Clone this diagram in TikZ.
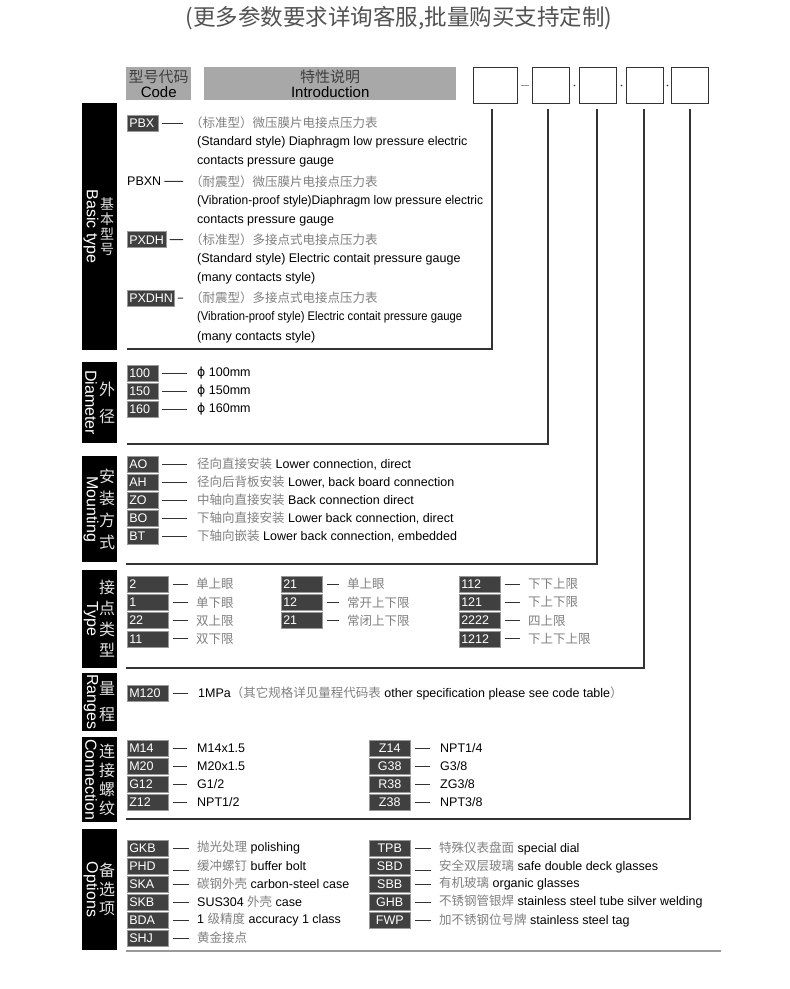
\documentclass[tikz,border=0pt]{standalone}
\usepackage{fontspec}
\setmainfont{Liberation Sans}
\newfontfamily\cjk{Noto Sans CJK SC}
\newfontfamily\symf{DejaVu Sans}
\usetikzlibrary{calc}
\definecolor{CodeGray}{rgb}{0.25,0.25,0.25}
\definecolor{HeadGray}{rgb}{0.66,0.66,0.66}
\definecolor{ZhGray}{rgb}{0.50,0.50,0.50}
\definecolor{TitleGray}{rgb}{0.32,0.32,0.32}
\definecolor{FrameGray}{rgb}{0.20,0.20,0.20}
\definecolor{Black50}{rgb}{0.600,0.600,0.600}
\newcommand{\zhg}[1]{{\cjk\color{ZhGray}#1}}

\begin{document}
\begin{tikzpicture}[x=1pt, y=-1pt,
  codebox/.style={fill=CodeGray, draw=Black50, line width=0.5pt, text=white,
    font=\fontsize{12.5}{13}\selectfont, minimum height=16pt,
    inner xsep=2pt, inner ysep=0pt, anchor=west, align=left, text width=#1},
  codebox/.default=27pt,
  desc/.style={anchor=west, inner sep=0pt, font=\fontsize{12.5}{14}\selectfont},
  dashline/.style={draw=FrameGray, line width=1pt},
  frameline/.style={draw=FrameGray, line width=1.3pt},
  baren/.style={white, rotate=-90, inner sep=0pt, font=\fontsize{16}{16}\selectfont},
  barzh/.style 2 args={white!88!black, inner sep=0pt, align=center,
    font={\fontsize{#1}{#2}\selectfont\cjk}},
  headbox/.style={fill=HeadGray, anchor=north west, inner sep=0pt, align=center,
    minimum height=33pt, font=\fontsize{15}{15.5}\selectfont},
  slot/.style={draw=FrameGray, line width=1pt, anchor=north west, inner sep=0pt,
    minimum height=36pt}
]
% page
\fill[white] (0,0) rectangle (790,989);
\useasboundingbox (0,0) rectangle (790,989);

% ============================================================
% Title and header row
% ============================================================
\node[TitleGray, font={\fontsize{22.5}{24}\selectfont\cjk}] (title) at (399,18) {(更多参数要求详询客服,批量购买支持定制)};

\node[headbox, minimum width=65pt] (hcode) at (126,67) {{\cjk\color{black!75}型号代码}\\Code};
\node[headbox, minimum width=252pt] (hintro) at (204,67) {{\cjk\color{black!75}特性说明}\\Introduction};

% code slots
\foreach \x/\w [count=\i] in {473/44,532/37,579/37,626/37,671/37}{
  \node[slot, minimum width=\w pt] (s\i) at (\x,67) {};
}
\draw[Black50, line width=0.8pt] ([xshift=3pt]s1.east) -- ([xshift=-3pt]s2.west);
\foreach \i/\j in {2/3,3/4,4/5}
  \fill[FrameGray] ($(s\i.east)!0.5!(s\j.west)$) circle (0.9pt);

% lines from the slots down to each section
\foreach \i/\x/\y/\ex in {1/492/349/127,2/548/444/127,3/597/564/126,4/644/668/126,5/690/819/126}{
  \coordinate (t\i) at ([yshift=-5pt]s\i.south);
  \coordinate (k\i) at (\x,\y);
  \coordinate (e\i) at (\ex,\y);
  \draw[frameline] (t\i -| k\i) -- (k\i) -- (e\i);
}

% ============================================================
% Black side bars
% ============================================================
\foreach \top/\bot/\en/\zh/\sz/\sp [count=\i] in {
  103/350/Basic type/{基\\本\\型\\号}/14/15,
  362/443/Diameter/{外\\径}/16/27,
  456/562/Mounting/{安\\装\\方\\式}/16/22,
  570/668/Type/{接\\点\\类\\型}/16/21,
  673/731/Ranges/{量\\程}/16/26,
  737/822/Connection/{连\\接\\螺\\纹}/16/19,
  829/950/Options/{备\\选\\项}/16/19}{
  \fill[black] (82,\top) rectangle (117,\bot);
  \node[baren] (en\i) at (91,{(\top+\bot)/2}) {\en};
  \node[barzh={\sz}{\sp}] (zh\i) at (107,{(\top+\bot)/2}) {\zh};
}

% ============================================================
% Basic type
% ============================================================
\foreach \x/\txt [count=\i] in {
  190/{\zhg{（标准型）微压膜片电接点压力表}},
  197/{(Standard style) Diaphragm low pressure electric},
  197/{contacts pressure gauge},
  190/{\zhg{（耐震型）微压膜片电接点压力表}},
  197/{\scalebox{0.96}[1]{(Vibration-proof style)Diaphragm low pressure electric}},
  197/{contacts pressure gauge},
  190/{\zhg{（标准型）多接点式电接点压力表}},
  197/{(Standard style) Electric contait pressure gauge},
  197/{(many contacts style)},
  190/{\zhg{（耐震型）多接点式电接点压力表}},
  197/{\scalebox{0.9}[1]{(Vibration-proof style) Electric contait pressure gauge}},
  197/{(many contacts style)}}{
  \node[desc] (bt\i) at (\x,{123+19.45*(\i-1)}) {\txt};
}
\node[codebox] (bc1) at (127,123) {PBX};
\node[desc] (bc2) at (127,181.35) {PBXN};
\node[codebox=35pt] (bc3) at (127,239.7) {PXDH};
\node[codebox=43pt] (bc4) at (127,298.05) {PXDHN};
\foreach \i/\j in {1/1,2/4,3/7,4/10}
  \draw[dashline] ([xshift=3pt]bc\i.east) -- ([xshift=-7pt]bt\j.west);

% ============================================================
% Diameter
% ============================================================
\foreach \code/\txt [count=\i] in {100/{{\symf ϕ} 100mm},150/{{\symf ϕ} 150mm},160/{{\symf ϕ} 160mm}}{
  \node[codebox] (dc\i) at (127,{373+18*(\i-1)}) {\code};
  \node[desc] (dt\i) at (197,{373+18*(\i-1)}) {\txt};
  \draw[dashline] ([xshift=3pt]dc\i.east) -- ([xshift=-10pt]dt\i.west);
}

% ============================================================
% Mounting
% ============================================================
\foreach \code/\txt [count=\i] in {
  AO/{\zhg{径向直接安装} Lower connection, direct},
  AH/{\zhg{径向后背板安装} Lower, back board connection},
  ZO/{\zhg{中轴向直接安装} Back connection direct},
  BO/{\zhg{下轴向直接安装} Lower back connection, direct},
  BT/{\zhg{下轴向嵌装} Lower back connection, embedded}}{
  \node[codebox] (mc\i) at (127,{464+18*(\i-1)}) {\code};
  \node[desc] (mt\i) at (197,{464+18*(\i-1)}) {\txt};
  \draw[dashline] ([xshift=3pt]mc\i.east) -- ([xshift=-10pt]mt\i.west);
}

% ============================================================
% Contact type (three columns)
% ============================================================
\foreach \cx/\tx/\r/\code/\zh [count=\i] in {
  127/196/0/2/单上眼, 127/196/1/1/单下眼, 127/196/2/22/双上限, 127/196/3/11/双下限,
  281/347/0/21/单上眼, 281/347/1/12/常开上下限, 281/347/2/21/常闭上下限,
  459/528/0/112/下下上限, 459/528/1/121/下上下限, 459/528/2/2222/四上限, 459/528/3/1212/下上下上限}{
  \node[codebox=37pt] (tc\i) at (\cx,{584+18.3*\r}) {\code};
  \node[desc] (tt\i) at (\tx,{584+18.3*\r}) {\zhg{\zh}};
  \draw[dashline] ([xshift=4pt]tc\i.east) -- ([xshift=-8pt]tt\i.west);
}

% ============================================================
% Ranges
% ============================================================
\node[codebox=37pt] (rc1) at (127,693) {M120};
\node[desc] (rt1) at (198,693) {1MPa\zhg{（其它规格详见量程代码表} other specification please see code table\zhg{）}};
\draw[dashline] ([xshift=4pt]rc1.east) -- ([xshift=-10pt]rt1.west);

% ============================================================
% Connection thread
% ============================================================
\foreach \cx/\tx/\r/\code/\txt/\al [count=\i] in {
  127/197/0/M14/{M14x1.5}/left, 127/197/1/M20/{M20x1.5}/left,
  127/197/2/G12/{G1/2}/left, 127/197/3/Z12/{NPT1/2}/left,
  369/440/0/Z14/{NPT1/4}/center, 369/440/1/G38/{G3/8}/center,
  369/440/2/R38/{ZG3/8}/center, 369/440/3/Z38/{NPT3/8}/center}{
  \node[codebox=37pt, align=\al] (cc\i) at (\cx,{748+18*\r}) {\code};
  \node[desc] (ct\i) at (\tx,{748+18*\r}) {\txt};
  \draw[dashline] ([xshift=4pt]cc\i.east) -- ([xshift=-10pt]ct\i.west);
}

% ============================================================
% Options
% ============================================================
\foreach \cx/\tx/\r/\code/\txt/\al/\dy [count=\i] in {
  127/197/0/GKB/{\zhg{抛光处理} polishing}/left/0,
  127/197/1/PHD/{\zhg{缓冲螺钉} buffer bolt}/left/4,
  127/197/2/SKA/{\zhg{碳钢外壳} carbon-steel case}/left/0,
  127/197/3/SKB/{SUS304 \zhg{外壳} case}/left/0,
  127/197/4/BDA/{1 \zhg{级精度} accuracy 1 class}/left/0,
  127/197/5/SHJ/{\zhg{黄金接点}}/left/0,
  369/439/0/TPB/{\zhg{特殊仪表盘面} special dial}/center/0,
  369/439/1/SBD/{\zhg{安全双层玻璃} safe double deck glasses}/center/4,
  369/439/2/SBB/{\zhg{有机玻璃} organic glasses}/center/0,
  369/439/3/GHB/{\zhg{不锈钢管银焊} stainless steel tube silver welding}/center/0,
  369/439/4/FWP/{\zhg{加不锈钢位号牌} stainless steel tag}/center/0}{
  \node[codebox=37pt, align=\al] (oc\i) at (\cx,{848+18*\r}) {\code};
  \node[desc] (ot\i) at (\tx,{848+18*\r}) {\txt};
  \draw[dashline] ([xshift=4pt,yshift=-\dy pt]oc\i.east) -- ([xshift=-8pt,yshift=-\dy pt]ot\i.west);
}
\coordinate (ob1) at (126,951);
\coordinate (ob2) at (721,951);
\draw[Black50, line width=1.5pt] (ob1) -- (ob2);

\end{tikzpicture}
\end{document}
